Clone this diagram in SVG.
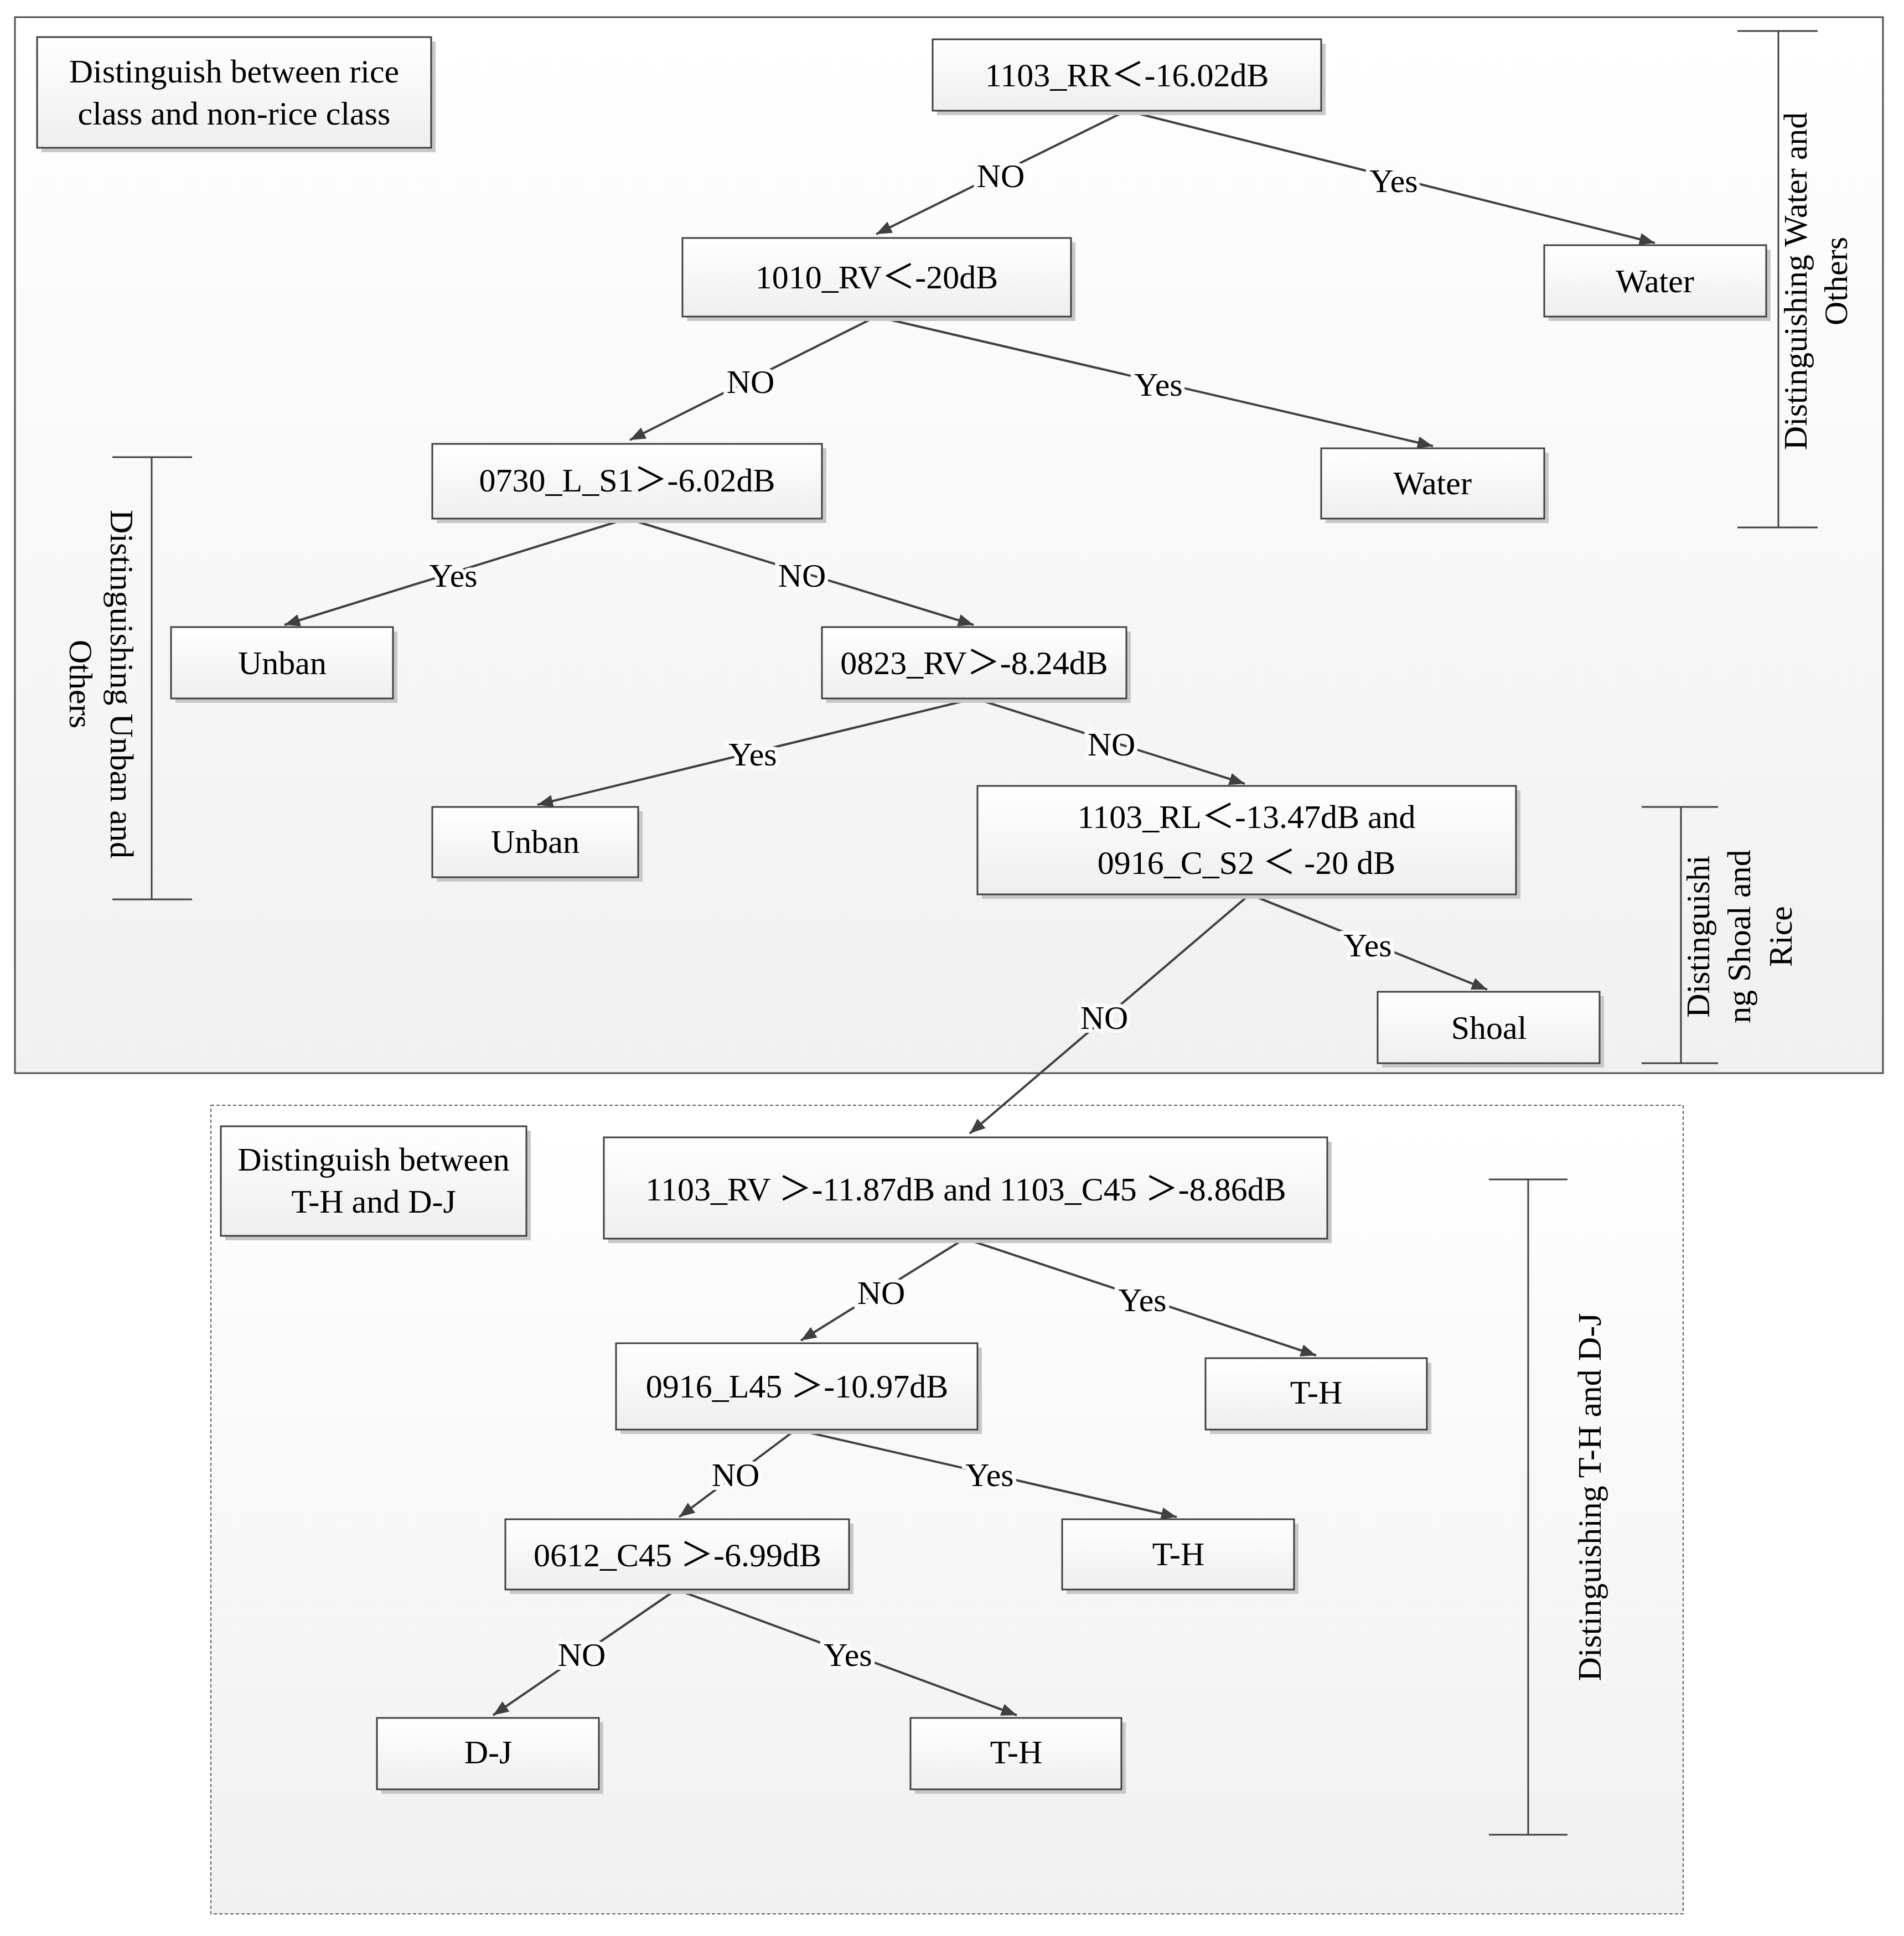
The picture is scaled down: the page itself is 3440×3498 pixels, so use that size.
<svg xmlns="http://www.w3.org/2000/svg" width="3440" height="3498" viewBox="0 0 3440 3498">
<defs>
<linearGradient id="g" x1="0" y1="0" x2="0" y2="1"><stop offset="0" stop-color="#ffffff"/><stop offset="1" stop-color="#eeeeee"/></linearGradient>
<linearGradient id="bg" x1="0" y1="0" x2="0" y2="1"><stop offset="0" stop-color="#ffffff"/><stop offset="1" stop-color="#f0f0f0"/></linearGradient>
<marker id="a" viewBox="0 0 10 10" refX="10" refY="5" markerWidth="7" markerHeight="7" orient="auto-start-reverse" markerUnits="strokeWidth"><path d="M0,1 L10,5 L0,9 z" fill="#404040"/></marker>
</defs>
<style>
text{font-family:"Liberation Serif","Noto Sans CJK SC",serif;font-size:60px;fill:#000;text-anchor:middle}
.n rect.s{fill:#c8c8c8}
.n rect.b{fill:url(#g);stroke:#404040;stroke-width:3}
.e line{stroke:#404040;stroke-width:4;marker-end:url(#a)}
.l text{stroke:#fbfbfb;stroke-width:14;paint-order:stroke}
.br line{stroke:#404040;stroke-width:3}
</style>
<rect width="3440" height="3498" fill="#fff"/>
<rect x="27" y="31" width="3375" height="1908" fill="url(#bg)" stroke="#505050" stroke-width="3"/>
<rect x="381" y="1997" width="2660" height="1461" fill="url(#bg)" stroke="#606060" stroke-width="2" stroke-dasharray="6,4"/>

<g class="e" id="connectors">
<line x1="2035" y1="200" x2="1583" y2="423"/>
<line x1="2035" y1="200" x2="2990" y2="439"/>
<line x1="1583" y1="572" x2="1138" y2="795"/>
<line x1="1583" y1="572" x2="2589" y2="806"/>
<line x1="1133" y1="937" x2="514" y2="1129"/>
<line x1="1133" y1="937" x2="1759" y2="1129"/>
<line x1="1761" y1="1262" x2="971" y2="1454"/>
<line x1="1761" y1="1262" x2="2249" y2="1416"/>
<line x1="2258" y1="1616" x2="1752" y2="2048"/>
<line x1="2258" y1="1616" x2="2687" y2="1788"/>
<line x1="1743" y1="2238" x2="1447" y2="2422"/>
<line x1="1743" y1="2238" x2="2378" y2="2449"/>
<line x1="1438" y1="2583" x2="1227" y2="2741"/>
<line x1="1438" y1="2583" x2="2126" y2="2741"/>
<line x1="1222" y1="2872" x2="891" y2="3099"/>
<line x1="1222" y1="2872" x2="1837" y2="3099"/>
</g>
<g class="l" id="edge-labels">
<text x="1808" y="338">NO</text>
<text x="2518" y="347">Yes</text>
<text x="1356" y="710">NO</text>
<text x="2093" y="715">Yes</text>
<text x="819" y="1060">Yes</text>
<text x="1449" y="1060">NO</text>
<text x="1360" y="1383">Yes</text>
<text x="2008" y="1365">NO</text>
<text x="1995" y="1859">NO</text>
<text x="2471" y="1728">Yes</text>
<text x="1592" y="2356">NO</text>
<text x="2064" y="2369">Yes</text>
<text x="1329" y="2685">NO</text>
<text x="1788" y="2685">Yes</text>
<text x="1051" y="3010">NO</text>
<text x="1532" y="3010">Yes</text>
</g>

<g class="n" id="lab1"><rect class="s" x="75" y="75" width="712" height="200"/><rect class="b" x="67" y="67" width="712" height="200"/><text x="423" y="149">Distinguish between rice</text><text x="423" y="225">class and non-rice class</text></g>
<g class="n" id="n1"><rect class="s" x="1693" y="79" width="702" height="129"/><rect class="b" x="1685" y="71" width="702" height="129"/><text x="2036" y="156">1103_RR＜-16.02dB</text></g>
<g class="n" id="n2"><rect class="s" x="1241" y="438" width="702" height="142"/><rect class="b" x="1233" y="430" width="702" height="142"/><text x="1584" y="521">1010_RV＜-20dB</text></g>
<g class="n" id="w1"><rect class="s" x="2798" y="451" width="401" height="129"/><rect class="b" x="2790" y="443" width="401" height="129"/><text x="2990" y="528">Water</text></g>
<g class="n" id="n3"><rect class="s" x="789" y="810" width="704" height="135"/><rect class="b" x="781" y="802" width="704" height="135"/><text x="1133" y="888">0730_L_S1＞-6.02dB</text></g>
<g class="n" id="w2"><rect class="s" x="2395" y="818" width="403" height="127"/><rect class="b" x="2387" y="810" width="403" height="127"/><text x="2588" y="893">Water</text></g>
<g class="n" id="u1"><rect class="s" x="317" y="1141" width="401" height="129"/><rect class="b" x="309" y="1133" width="401" height="129"/><text x="510" y="1218">Unban</text></g>
<g class="n" id="n4"><rect class="s" x="1493" y="1141" width="550" height="129"/><rect class="b" x="1485" y="1133" width="550" height="129"/><text x="1760" y="1218">0823_RV＞-8.24dB</text></g>
<g class="n" id="u2"><rect class="s" x="789" y="1466" width="372" height="127"/><rect class="b" x="781" y="1458" width="372" height="127"/><text x="967" y="1541">Unban</text></g>
<g class="n" id="n5"><rect class="s" x="1774" y="1428" width="973" height="196"/><rect class="b" x="1766" y="1420" width="973" height="196"/><text x="2252" y="1496">1103_RL＜-13.47dB and</text><text x="2252" y="1579">0916_C_S2 ＜ -20 dB</text></g>
<g class="n" id="shoal"><rect class="s" x="2497" y="1800" width="401" height="129"/><rect class="b" x="2489" y="1792" width="401" height="129"/><text x="2690" y="1877">Shoal</text></g>
<g class="n" id="lab2"><rect class="s" x="407" y="2043" width="552" height="198"/><rect class="b" x="399" y="2035" width="552" height="198"/><text x="675" y="2115">Distinguish between</text><text x="675" y="2191">T-H and D-J</text></g>
<g class="n" id="n6"><rect class="s" x="1099" y="2063" width="1307" height="183"/><rect class="b" x="1091" y="2055" width="1307" height="183"/><text x="1745" y="2169">1103_RV ＞-11.87dB and 1103_C45 ＞-8.86dB</text></g>
<g class="n" id="n7"><rect class="s" x="1121" y="2435" width="653" height="156"/><rect class="b" x="1113" y="2427" width="653" height="156"/><text x="1440" y="2525">0916_L45 ＞-10.97dB</text></g>
<g class="n" id="th1"><rect class="s" x="2186" y="2462" width="400" height="129"/><rect class="b" x="2178" y="2454" width="400" height="129"/><text x="2378" y="2536">T-H</text></g>
<g class="n" id="n8"><rect class="s" x="921" y="2753" width="621" height="127"/><rect class="b" x="913" y="2745" width="621" height="127"/><text x="1224" y="2830">0612_C45 ＞-6.99dB</text></g>
<g class="n" id="th2"><rect class="s" x="1927" y="2753" width="419" height="127"/><rect class="b" x="1919" y="2745" width="419" height="127"/><text x="2129" y="2828">T-H</text></g>
<g class="n" id="dj"><rect class="s" x="689" y="3112" width="401" height="129"/><rect class="b" x="681" y="3104" width="401" height="129"/><text x="882" y="3186">D-J</text></g>
<g class="n" id="th3"><rect class="s" x="1653" y="3112" width="381" height="129"/><rect class="b" x="1645" y="3104" width="381" height="129"/><text x="1836" y="3186">T-H</text></g>

<g class="br" id="brackets">
<line x1="3213" y1="56" x2="3213" y2="953"/><line x1="3139" y1="56" x2="3284" y2="56"/><line x1="3139" y1="953" x2="3284" y2="953"/>
<line x1="274" y1="826" x2="274" y2="1625"/><line x1="203" y1="826" x2="347" y2="826"/><line x1="203" y1="1625" x2="347" y2="1625"/>
<line x1="3037" y1="1458" x2="3037" y2="1921"/><line x1="2966" y1="1458" x2="3104" y2="1458"/><line x1="2966" y1="1921" x2="3104" y2="1921"/>
<line x1="2761" y1="2131" x2="2761" y2="3315"/><line x1="2690" y1="2131" x2="2832" y2="2131"/><line x1="2690" y1="3315" x2="2832" y2="3315"/>
</g>
<g id="bracket-labels">
<text transform="translate(3264,508) rotate(-90)">Distinguishing Water and</text>
<text transform="translate(3337,508) rotate(-90)">Others</text>
<text transform="translate(200,1236) rotate(90)">Distinguishing Unban and</text>
<text transform="translate(126,1236) rotate(90)">Others</text>
<text transform="translate(3088,1692) rotate(-90)">Distinguishi</text>
<text transform="translate(3162,1692) rotate(-90)">ng Shoal and</text>
<text transform="translate(3237,1692) rotate(-90)">Rice</text>
<text transform="translate(2892,2705) rotate(-90)">Distinguishing T-H and D-J</text>
</g>
</svg>
